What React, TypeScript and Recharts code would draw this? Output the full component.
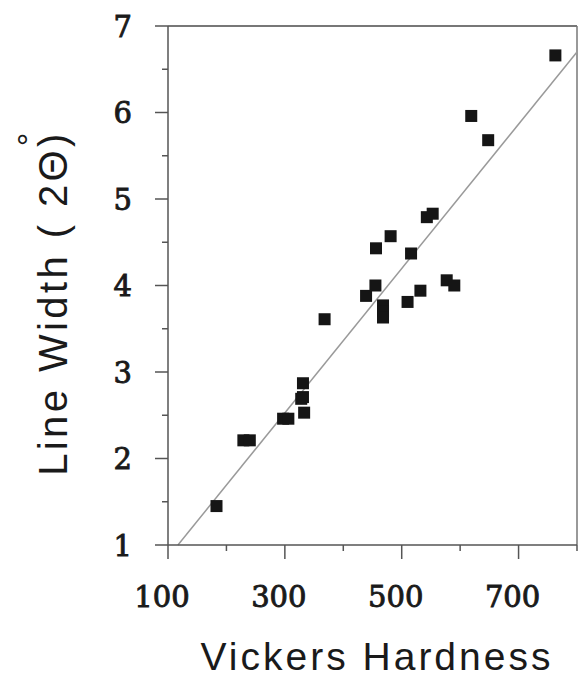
import {
  ReferenceLine,
  Scatter,
  ScatterChart,
  XAxis,
  YAxis,
  Label,
} from 'recharts';

// Vickers hardness vs. XRD line width (2θ, degrees)
const hardness = [
  183, 229, 240, 297, 306, 331, 331, 328, 333, 368, 439, 455, 456, 468, 468,
  468, 481, 510, 516, 532, 543, 553, 577, 590, 619, 648, 763,
];
const lineWidth = [
  1.45, 2.21, 2.21, 2.46, 2.46, 2.87, 2.71, 2.69, 2.53, 3.61, 3.88, 4.0, 4.43,
  3.77, 3.7, 3.63, 4.57, 3.81, 4.37, 3.94, 4.79, 4.83, 4.06, 4.0, 5.96, 5.68,
  6.66,
];
// least-squares line at its two ends
const fitX = [117, 800];
const fitY = [1, 6.7];

const xTicks = [100, 200, 300, 400, 500, 600, 700, 800];
const xLabels = [100, 300, 500, 700];
const yTicks = [1, 1.5, 2, 2.5, 3, 3.5, 4, 4.5, 5, 5.5, 6, 6.5, 7];
const yLabels = [1, 2, 3, 4, 5, 6, 7];

const points = hardness.map((h, i) => ({ h, w: lineWidth[i] }));

const AXIS = '#555';
const tickFont = {
  fontFamily: 'DejaVu Serif',
  fontSize: 29,
  fill: '#1a1a1a',
  stroke: '#1a1a1a',
  strokeWidth: 0.9,
};

const XTick = ({ x, y, payload }: any) => {
  const major = xLabels.includes(payload.value);
  return (
    <g>
      <line x1={x} x2={x} y1={y} y2={y + (major ? 14 : 6)} stroke={AXIS} strokeWidth={1.5} />
      {major && (
        <text x={x - 6} y={y + 62} textAnchor="middle" {...tickFont}>
          {payload.value}
        </text>
      )}
    </g>
  );
};

const YTick = ({ x, y, payload }: any) => {
  const major = yLabels.includes(payload.value);
  return (
    <g>
      <line x1={x} x2={x - (major ? 13 : 6)} y1={y} y2={y} stroke={AXIS} strokeWidth={1.5} />
      {major && (
        <text x={x - 36} y={y + 10.5} textAnchor="end" {...tickFont}>
          {payload.value}
        </text>
      )}
    </g>
  );
};

const Square = ({ cx, cy, fill }: any) => (
  <rect x={cx - 6} y={cy - 6} width={12} height={12} fill={fill} />
);

const titleFont = {
  fontFamily: 'Liberation Sans',
  fontSize: 39,
  letterSpacing: 3,
  fill: '#1a1a1a',
};

const YTitle = () => (
  <g>
    <text
      transform="translate(67,303) rotate(-90)"
      textAnchor="middle"
      {...titleFont}
      fontSize={40}
      letterSpacing={3.4}
    >
      Line Width ( 2Θ)
    </text>
    <text transform="translate(41,138) rotate(-90)" textAnchor="middle" {...titleFont} fontSize={34}>
      °
    </text>
  </g>
);

const XTitle = () => (
  <text x={377} y={670} textAnchor="middle" {...titleFont}>
    Vickers Hardness
  </text>
);

export default function App() {
  return (
    <div style={{ background: '#fff' }}>
      <style>{'body{margin:0;background:#fff}'}</style>
      <ScatterChart width={578} height={677} margin={{ top: 26, right: 1, bottom: 0, left: 0 }}>
        <XAxis
          type="number"
          dataKey="h"
          domain={[100, 800]}
          ticks={xTicks}
          interval={0}
          height={132}
          tickSize={0}
          tickMargin={0}
          tickLine={false}
          tick={<XTick />}
          axisLine={{ stroke: AXIS, strokeWidth: 1.5 }}
        >
          <Label content={<XTitle />} />
        </XAxis>
        <YAxis
          type="number"
          dataKey="w"
          domain={[1, 7]}
          ticks={yTicks}
          interval={0}
          width={168}
          tickSize={0}
          tickMargin={0}
          tickLine={false}
          tick={<YTick />}
          axisLine={{ stroke: AXIS, strokeWidth: 1.5 }}
        >
          <Label content={<YTitle />} />
        </YAxis>
        <ReferenceLine y={7} stroke="#777" strokeWidth={2} />
        <ReferenceLine x={800} stroke="#777" strokeWidth={1.5} />
        <ReferenceLine
          segment={[
            { x: fitX[0], y: fitY[0] },
            { x: fitX[1], y: fitY[1] },
          ]}
          stroke="#9a9a9a"
          strokeWidth={1.5}
        />
        <Scatter data={points} shape={<Square />} fill="#151515" isAnimationActive={false} />
      </ScatterChart>
    </div>
  );
}
